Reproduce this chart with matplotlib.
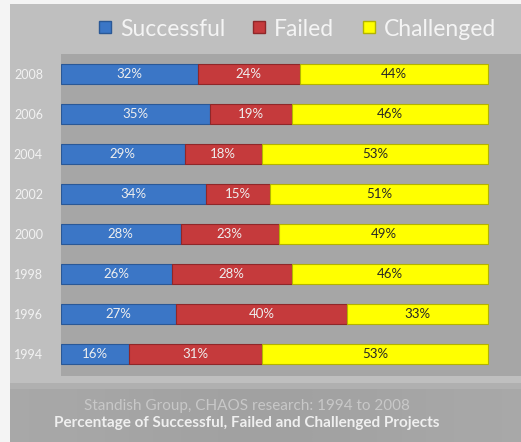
import matplotlib.pyplot as plt
import numpy as np
from matplotlib.patches import Rectangle
from matplotlib.lines import Line2D

years = ["1994", "1996", "1998", "2000", "2002", "2004", "2006", "2008"]
successful = [16, 27, 26, 28, 34, 29, 35, 32]
failed = [31, 40, 28, 23, 15, 18, 19, 24]
challenged = [53, 33, 46, 49, 51, 53, 46, 44]

series = ["Successful", "Failed", "Challenged"]
colors = {"Successful": "#3b76c6", "Failed": "#c53a3c", "Challenged": "#ffff00"}
edges = {"Successful": "#2a5896", "Failed": "#8f2729", "Challenged": "#b3b300"}
text_colors = {"Successful": "#eeeeee", "Failed": "#eeeeee", "Challenged": "#262626"}

plt.rcParams["font.family"] = ["Lato", "DejaVu Sans"]

W, H = 521, 442
fig = plt.figure(figsize=(W / 100, H / 100), dpi=100)
fig.patch.set_facecolor("#f4f4f4")

# background layer covering whole figure, pixel coords
bg = fig.add_axes([0, 0, 1, 1], zorder=-10)
bg.set_xlim(0, W)
bg.set_ylim(H, 0)
bg.set_axis_off()
bg.add_patch(Rectangle((10, 4), 511, 379, facecolor="#bfbfbf", edgecolor="none"))
bg.add_patch(Rectangle((10, 383), 511, 6, facecolor="#b0b0b0", edgecolor="none"))

# bottom band with a soft horizontal gradient
band = fig.add_axes([10 / W, 0, 511 / W, 1 - 389 / H], zorder=1)
levels = np.array([0.66, 0.64, 0.63, 0.64, 0.66])
band.imshow(np.dstack([levels, levels, levels])[None, 0], aspect="auto",
            extent=[0, 1, 0, 1], interpolation="bicubic")
band.set_axis_off()
band.text(237 / 511, 0.67, "Standish Group, CHAOS research: 1994 to 2008",
          ha="center", va="center", fontsize=11, color="#c8c8c8",
          transform=band.transAxes)
band.text(237 / 511, 0.35, "Percentage of Successful, Failed and Challenged Projects",
          ha="center", va="center", fontsize=11, color="#efefef",
          fontweight="bold", transform=band.transAxes)

ax = fig.add_axes([61 / W, 1 - 376 / H, 460 / W, 322 / H], zorder=2)
ax.set_facecolor("#a6a6a6")
for s in ax.spines.values():
    s.set_visible(False)

y = np.arange(len(years))
data = {"Successful": successful, "Failed": failed, "Challenged": challenged}
left = np.zeros(len(years))
for name in series:
    vals = np.array(data[name], dtype=float)
    ax.barh(y, vals, left=left, height=0.5, color=colors[name],
            edgecolor=edges[name], linewidth=0.8, zorder=3)
    for yi, l, v in zip(y, left, vals):
        ax.text(l + v / 2, yi, f"{int(v)}%", ha="center", va="center",
                fontsize=9.5, color=text_colors[name], zorder=4)
    left += vals

ax.set_xlim(0, 107.7)
ax.set_ylim(-0.55, 7.5)
ax.set_xticks([])
ax.set_yticks(y)
ax.set_yticklabels(years, fontsize=9, color="#f2f2f2")
ax.tick_params(axis="y", length=0, pad=13)

handles = [Line2D([0], [0], marker="s", linestyle="", markersize=8,
                  markerfacecolor=colors[n], markeredgecolor=edges[n], label=n)
           for n in series]
fig.legend(handles=handles, loc="center", bbox_to_anchor=(297 / W, 1 - 29 / H),
           ncol=3, frameon=False, fontsize=16.5, labelcolor="#f4f4f4",
           handlelength=0.6, handletextpad=0.35, columnspacing=1.2)

fig.savefig("out.png", dpi=100, facecolor=fig.get_facecolor())
